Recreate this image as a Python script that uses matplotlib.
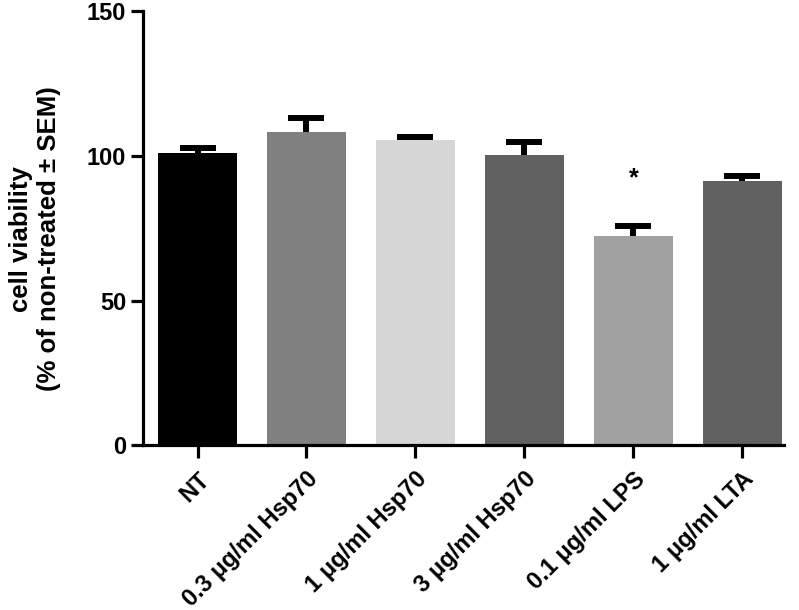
import matplotlib
matplotlib.use("Agg")
import matplotlib.pyplot as plt

groups = ["NT", "0.3 μg/ml Hsp70", "1 μg/ml Hsp70", "3 μg/ml Hsp70",
          "0.1 μg/ml LPS", "1 μg/ml LTA"]
viability = [101.0, 108.2, 105.4, 100.2, 72.2, 91.3]
sem = [1.6, 4.8, 1.2, 4.5, 3.5, 1.7]
bar_colors = ["#000000", "#808080", "#d6d6d6", "#616161", "#a1a1a1", "#616161"]
star_group = 4
star_y = 92.3

plt.rcParams['font.family'] = ['Liberation Sans', 'DejaVu Sans']
plt.rcParams['font.weight'] = 'bold'

fig = plt.figure(figsize=(7.99, 6.10), dpi=100)
ax = fig.add_axes([0.179, 0.270, 0.802, 0.712])

x = list(range(len(groups)))
ax.bar(x, viability, width=0.72, color=bar_colors, linewidth=0, zorder=2)
# only the upper half of the SEM bar is shown
eb = ax.errorbar(x, viability, yerr=[[0] * len(sem), sem], fmt='none',
                 ecolor='black', elinewidth=4.3, capsize=13, capthick=4.3,
                 zorder=3)
eb[1][0].set_visible(False)
ax.text(star_group, star_y, "*", ha='center', va='center', fontsize=18)

ax.set_xlim(-0.5, 5.38)
ax.set_ylim(0, 150)
ax.set_yticks([0, 50, 100, 150])
ax.set_xticks(x)
ax.set_xticklabels(groups, rotation=45, ha='right', rotation_mode='anchor',
                   fontsize=17, fontweight='bold')
for lab in ax.get_yticklabels():
    lab.set_fontsize(17)
    lab.set_fontweight('bold')

for side in ['top', 'right']:
    ax.spines[side].set_visible(False)
for side in ['left', 'bottom']:
    ax.spines[side].set_linewidth(2.3)
ax.tick_params(axis='both', length=9, width=2.3, pad=3)
ax.tick_params(axis='x', pad=7)

ax.set_ylabel("cell viability\n(% of non-treated ± SEM)", fontsize=18.5,
              fontweight='bold', linespacing=1.2)
ax.yaxis.set_label_coords(-0.128, 0.475)

fig.savefig("out.png", dpi=100)
